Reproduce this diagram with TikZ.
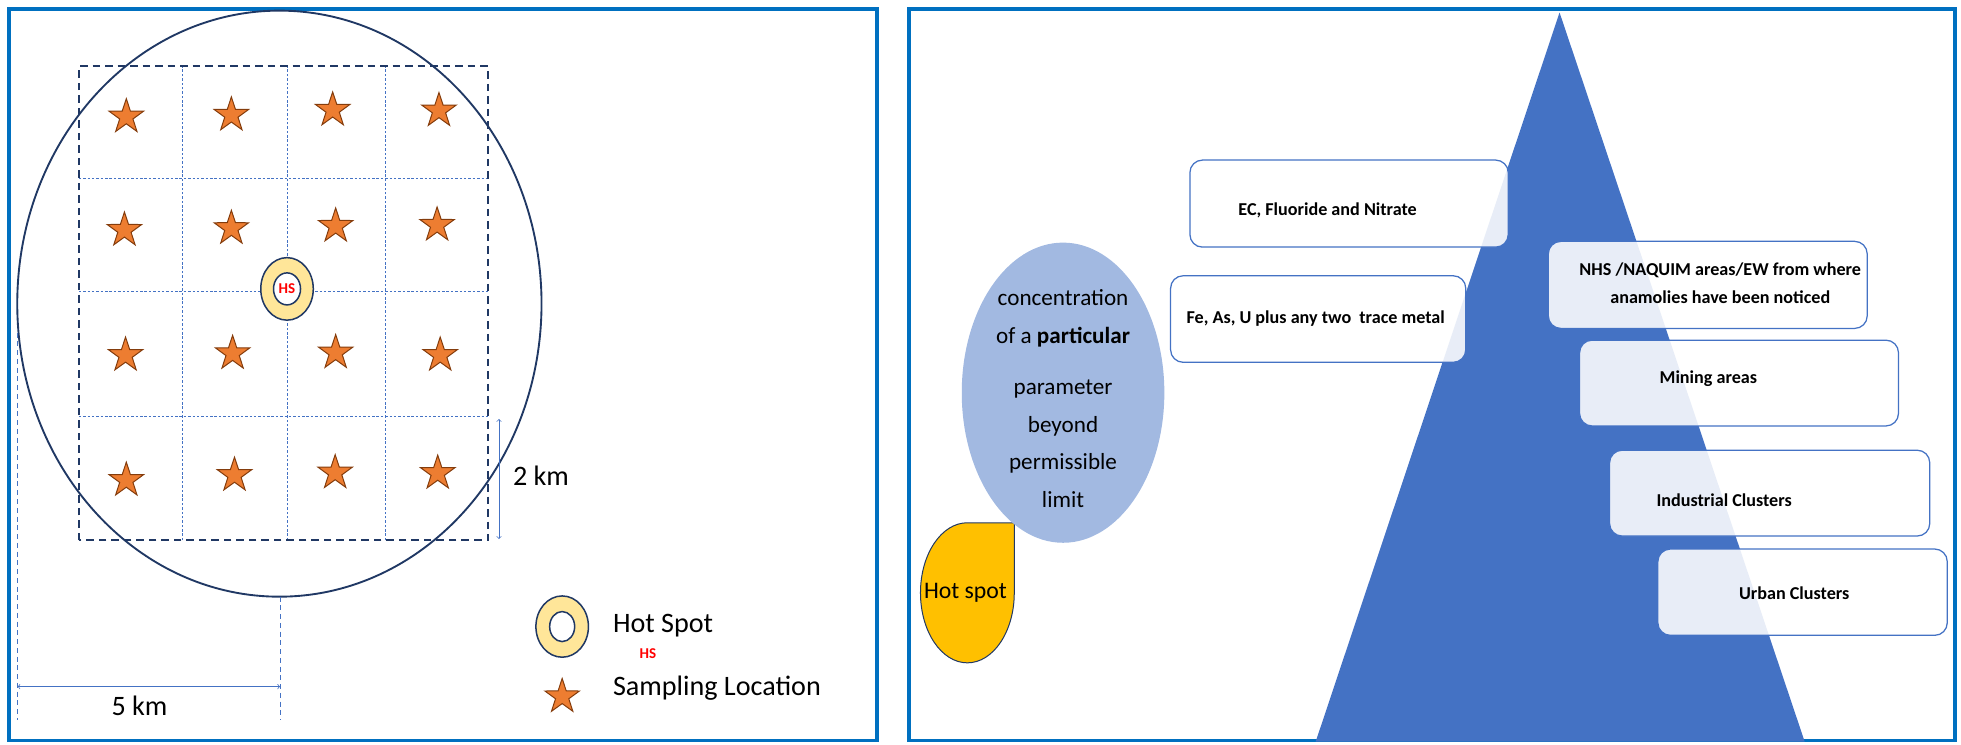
\documentclass[tikz,border=0pt]{standalone}
\usepackage{fontspec}
\setmainfont{Carlito}
\usetikzlibrary{shapes.geometric}
\definecolor{frameblue}{HTML}{0070C0}
\definecolor{accentblue}{HTML}{4472C4}
\definecolor{navy}{HTML}{203864}
\definecolor{starorange}{HTML}{ED7D31}
\definecolor{starbrown}{HTML}{843C0C}
\definecolor{ringyellow}{HTML}{FFE699}
\definecolor{hotyellow}{HTML}{FFC000}
\definecolor{paleblue}{HTML}{A2B9E1}

\begin{document}
\begin{tikzpicture}[x=1pt,y=1pt,
  sample/.style={star,star points=5,star point ratio=2.6,minimum size=29pt,inner sep=0pt,
    fill=starorange,draw=starbrown,line width=0.8pt},
  ring/.style={ellipse,draw=navy,line width=1.2pt,fill=ringyellow,inner sep=0pt},
  hole/.style={ellipse,draw=navy,line width=1.2pt,fill=white,inner sep=0pt},
  gridline/.style={accentblue,line width=0.6pt,dash pattern=on 2pt off 1.5pt},
  dimline/.style={accentblue,line width=0.6pt,dash pattern=on 4pt off 3pt},
  legend/.style={inner sep=0pt,font=\fontsize{22.5}{27}\selectfont},
  hstext/.style={text=red,inner sep=0pt,font=\bfseries\fontsize{12}{14}\selectfont},
  levelbox/.style={draw=accentblue,line width=1pt,rounded corners=10pt,inner sep=0pt,
    fill=white,fill opacity=0.88,text opacity=1},
  boxtext/.style={inner sep=0pt,align=center,text opacity=1,
    font=\bfseries\fontsize{14.5}{23}\selectfont}]
\useasboundingbox (0,0) rectangle (1568,595);

% left panel: sampling grid
\draw[frameblue,line width=3pt] (7,3) rectangle (701,588);
\draw[navy,line width=1.5pt] (223.4,352.2) ellipse[x radius=209.6,y radius=234.3];
\draw[gridline] (146,163) -- (146,542);
\draw[gridline] (230,163) -- (230,542);
\draw[gridline] (308,163) -- (308,542);
\draw[gridline] (63,452) -- (390,452);
\draw[gridline] (63,362) -- (390,362);
\draw[gridline] (63,262) -- (390,262);
\draw[navy,line width=1.5pt,dash pattern=on 6pt off 4pt] (63,163) rectangle (390,542);

\node[sample] (s11) at (101,501.6) {};
\node[sample] (s12) at (185,503) {};
\node[sample] (s13) at (266,507) {};
\node[sample] (s14) at (351,506.5) {};
\node[sample] (s21) at (99.5,411) {};
\node[sample] (s22) at (185,412.4) {};
\node[sample] (s23) at (268.4,414.2) {};
\node[sample] (s24) at (349.5,415) {};
\node[sample] (s31) at (100.4,311) {};
\node[sample] (s32) at (186,312.4) {};
\node[sample] (s33) at (268.4,313) {};
\node[sample] (s34) at (352,311) {};
\node[sample] (s41) at (101,211) {};
\node[sample] (s42) at (187.5,215) {};
\node[sample] (s43) at (268,217) {};
\node[sample] (s44) at (350,216.6) {};

\node[ring,minimum width=42pt,minimum height=50pt] (hsring) at (229.5,364) {};
\node[hole,minimum width=21.6pt,minimum height=25.6pt] (hshole) at (hsring.center) {};
\node[hstext] (hslabel) at (hshole.center) {HS};

% dimensions
\coordinate (twotop) at (399,260);
\coordinate (twobot) at (399,164);
\draw[accentblue,line width=0.6pt,<->] (twotop) -- (twobot);
\node[legend,anchor=west] (twokm) at (410,214.4) {2 km};

\coordinate (leftup) at (14,329);
\coordinate (leftdown) at (14,19);
\coordinate (midup) at (224,118);
\coordinate (middown) at (224,19);
\draw[dimline] (leftup) -- (leftdown);
\draw[dimline] (midup) -- (middown);
\coordinate (fivel) at (14,46);
\coordinate (fiver) at (224,46);
\draw[accentblue,line width=0.6pt,<->] (fivel) -- (fiver);
\node[legend] (fivekm) at (111.5,30.5) {5 km};

% legend
\node[ring,minimum width=42pt,minimum height=49pt] (keyring) at (449.5,94) {};
\node[hole,minimum width=20pt,minimum height=24pt] (keyhole) at (keyring.center) {};
\node[legend,anchor=west] (keyhot) at (490,94.4) {Hot Spot};
\node[hstext] (keyhs) at (518,72) {HS};
\node[sample] (keystar) at (449.5,38) {};
\node[legend,anchor=west] (keysample) at (490,45) {Sampling Location};

% right panel: priority pyramid
\draw[frameblue,line width=3pt] (727,3) rectangle (1563,588);
\fill[accentblue] (1247,585) -- (1443,2) -- (1052,2) -- cycle;

\node[levelbox,minimum width=254.5pt,minimum height=69.6pt,
  label={[boxtext,xshift=-17.2pt,yshift=-5.7pt]center:EC, Fluoride and Nitrate}]
  (ecbox) at (1078.7,432.2) {};
\node[levelbox,minimum width=236pt,minimum height=69.2pt,
  label={[boxtext,xshift=-2pt]center:Fe, As, U plus any two\ \ trace metal}]
  (febox) at (1054,339.9) {};
\node[levelbox,minimum width=255pt,minimum height=69.6pt,
  label={[boxtext,xshift=10pt,yshift=1.3pt]center:NHS /NAQUIM areas/EW from where\\anamolies have been noticed}]
  (nhsbox) at (1365.5,367.2) {};
\node[levelbox,minimum width=255pt,minimum height=68.6pt,
  label={[boxtext,xshift=-24.5pt,yshift=3.3pt]center:Mining areas}]
  (minebox) at (1390.5,288.7) {};
\node[levelbox,minimum width=256pt,minimum height=68.6pt,
  label={[boxtext,xshift=-36.4pt,yshift=-5.7pt]center:Industrial Clusters}]
  (indbox) at (1415,200.7) {};
\node[levelbox,minimum width=231.4pt,minimum height=69pt,
  label={[boxtext,xshift=-6.7pt,yshift=-0.5pt]center:Urban Clusters}]
  (urbbox) at (1441.3,121.5) {};

\draw[navy,line width=0.8pt,fill=hotyellow] (811,177) -- (773.5,177)
  arc[start angle=90,end angle=360,x radius=37.5,y radius=56] -- cycle;
\node[inner sep=0pt,font=\fontsize{19}{23}\selectfont] (hotspot) at (772,121) {Hot spot};

\node[ellipse,fill=paleblue,minimum width=162pt,minimum height=240pt,
  label={[inner sep=0pt,align=center,yshift=-4.8pt,font=\fontsize{18.5}{30}\selectfont]center:concentration\\of a \textbf{particular}\\[11pt]parameter\\beyond\\permissible\\limit}]
  (cloud) at (850,281) {};
\end{tikzpicture}
\end{document}
